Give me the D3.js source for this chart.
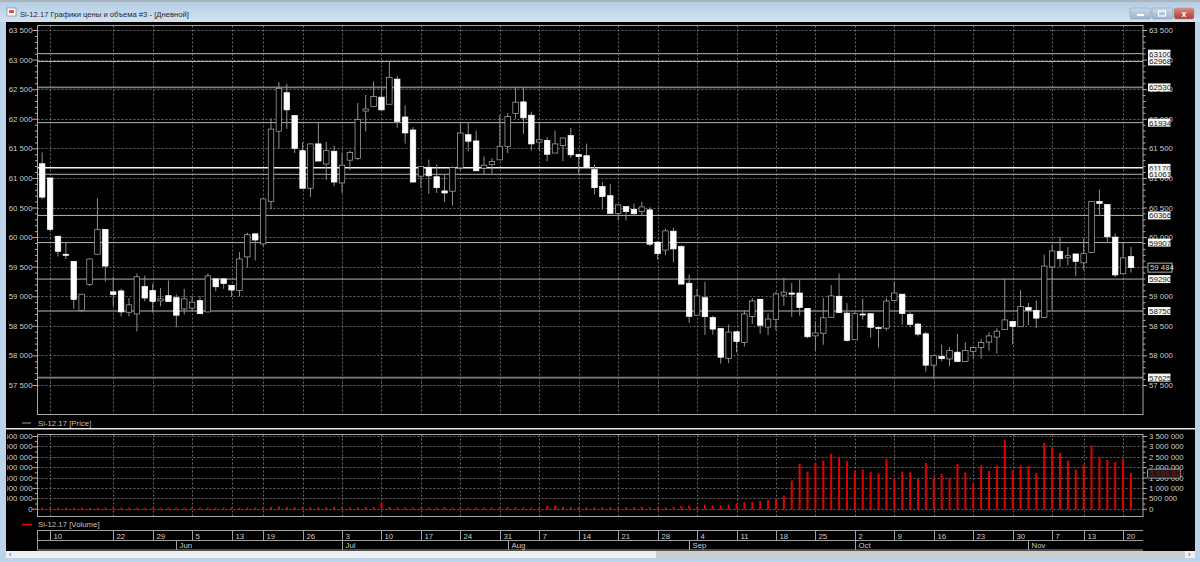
<!DOCTYPE html>
<html><head><meta charset="utf-8">
<script src="https://cdnjs.cloudflare.com/ajax/libs/d3/7.8.5/d3.min.js"></script>
<style>
html,body{margin:0;padding:0;background:#000;overflow:hidden}
svg{display:block}
text{font-family:"Liberation Sans",Arial,sans-serif;opacity:.99}
</style></head><body>
<svg id="c" width="1200" height="562"></svg>
<script>
const titleText = "Si-12.17 Графики цены и объема #3 - [Дневной]";
const priceLegend = "Si-12.17 [Price]";
const volumeLegend = "Si-12.17 [Volume]";

const opens = [61240,61000,60015,59710,59590,58760,59200,59710,60130,59075,
59090,58730,58700,59165,59095,58920,59010,58975,58785,58800,
58925,58735,59295,59295,59185,59100,59665,60055,59885,60605,
61790,62440,62055,61460,60825,61575,61235,61450,60915,61300,
61330,62130,62210,62365,62245,62670,62030,61810,61030,61180,
61020,60780,60775,61170,61730,61625,61165,61230,61305,61535,
62090,62285,62060,61605,61635,61420,61550,61715,61395,61375,
61140,60855,60700,60400,60515,60470,60430,60460,59915,59780,
60100,59840,59220,58680,58975,58640,58455,57950,58400,58220,
58660,58950,58480,58605,59020,59055,59055,58795,58330,58375,
58645,59000,58715,58265,58700,58705,58470,58460,58930,59035,
58695,58530,58365,57835,57985,57940,58055,57895,58070,58135,
58225,58310,58435,58575,58485,58810,58760,58640,59495,59760,
59650,59715,59565,59740,60600,60550,60000,59380,59670];
const highs = [61430,61000,60015,59915,59590,59040,59640,60660,60130,59330,
59125,58970,59385,59350,59215,59140,59265,59030,59125,59000,
59000,59385,59295,59295,59185,59745,60075,60055,60650,62010,
62620,62590,62055,61600,61575,61945,61610,61545,61430,61465,
62265,62405,62630,62515,62965,62725,62225,61860,61195,61310,
61225,61055,61195,61940,61940,61800,61365,61335,62065,62095,
62530,62530,62120,61940,61690,61800,61675,61845,61395,61580,
61225,60930,60900,60545,60515,60565,60600,60505,59935,60140,
60160,59860,59365,59125,59245,58670,58455,58520,58400,58765,
58970,58950,58705,59070,59310,59225,59280,58795,58575,58970,
59190,59385,58885,58745,58960,58705,58470,58970,59245,59035,
58730,58550,58395,57995,58180,58140,58365,58225,58135,58275,
58390,58460,59295,58575,59105,58890,58930,59705,59875,60005,
59830,59715,59975,60600,60805,60550,60060,59905,59835];
const lows = [60640,60100,59670,59630,58790,58730,59170,59710,59250,58830,
58660,58660,58405,58915,58720,58830,58910,58475,58690,58745,
58700,58735,59085,59125,58990,59000,59490,59605,59845,60470,
61505,61830,61420,60825,60680,61285,60970,60860,60745,61130,
61300,61785,62210,62150,62245,61845,61580,60930,60830,60730,
60745,60590,60535,61130,61450,61120,61055,61055,61305,61420,
62000,61745,61460,61465,61280,61420,61280,61335,61070,61185,
60720,60465,60400,60285,60280,60355,60370,59850,59620,59695,
59575,59205,58550,58680,58350,58355,57860,57870,58050,58150,
58530,58365,58340,58420,58840,58650,58670,58290,58070,58180,
58645,58725,58235,58265,58605,58305,58130,58420,58930,58520,
58475,58320,57725,57610,57900,57815,57895,57895,57955,57945,
58080,58030,58435,58185,58485,58515,58465,58640,58765,59495,
59520,59340,59445,59740,60380,59920,59325,59380,59400];
const closes = [60675,60130,59760,59690,58945,59035,59630,60125,59510,59030,
58735,58855,59330,58970,58910,58955,58910,58680,58955,58900,
58705,59345,59160,59215,59105,59630,60040,59950,60645,61825,
62515,62150,61500,60825,61575,61285,61460,60930,61215,61430,
61985,62165,62375,62150,62700,61955,61760,60930,61195,61035,
60835,60745,61175,61760,61620,61120,61215,61275,61535,62040,
62280,62015,61575,61645,61400,61575,61675,61390,61360,61185,
60835,60685,60400,60545,60430,60395,60510,59880,59720,60105,
59800,59205,58660,59005,58655,58445,57970,58395,58235,58700,
58920,58510,58615,59040,59070,59035,58810,58315,58380,58635,
59005,58725,58255,58705,58690,58475,58460,58920,59055,58710,
58525,58360,57835,57995,57945,58085,57895,58085,58135,58220,
58330,58410,58600,58490,58825,58765,58630,59510,59765,59635,
59685,59590,59720,60600,60570,60005,59360,59650,59484];
const volumes = [20000,30000,20000,15000,20000,20000,15000,15000,25000,20000,
20000,20000,25000,15000,30000,20000,30000,25000,20000,35000,
30000,25000,20000,30000,40000,25000,25000,30000,40000,60000,
90000,60000,45000,50000,45000,50000,40000,70000,40000,30000,
45000,70000,50000,280000,60000,40000,35000,30000,45000,30000,
30000,55000,30000,50000,25000,35000,30000,30000,40000,55000,
45000,35000,30000,40000,120000,130000,70000,60000,55000,35000,
30000,40000,50000,45000,45000,40000,85000,50000,35000,40000,
50000,100000,130000,50000,180000,130000,145000,180000,200000,290000,
300000,340000,400000,420000,610000,1330000,2140000,1760000,2180000,2290000,
2620000,2460000,2260000,1810000,1870000,1760000,1660000,2370000,1440000,1760000,
1730000,1410000,2190000,1490000,1660000,1470000,2130000,1730000,1180000,2060000,
1790000,2030000,3280000,1820000,2060000,2020000,1700000,3150000,2910000,2660000,
2290000,1860000,2100000,3020000,2460000,2320000,2220000,2380000,1686629];
const lastPrice = 59484;
const lastVolume = 1686629;

const priceTicks = [63500,63000,62500,62000,61500,61000,60500,60000,59500,59000,58500,58000,57500];
const priceMinor = [63400,63300,63200,63100,62900,62800,62700,62600,62400,62300,62200,62100,61900,61800,61700,61600,61400,61300,61200,61100,60900,60800,60700,60600,60400,60300,60200,60100,59900,59800,59700,59600,59400,59300,59200,59100,58900,58800,58700,58600,58400,58300,58200,58100,57900,57800,57700,57600];
const volumeTicks = [0,500000,1000000,1500000,2000000,2500000,3000000,3500000];
const volumeMinor = [250000,750000,1250000,1750000,2250000,2750000,3250000];
const levels = [63100,62968,62530,61934,61170,61061,60366,59907,59290,58750,57625];
const heavyLevels = [62530,58750,57625];
const brightLevels = [61170];
const dayIdx = [1,9,14,19,24,28,33,38,43,48,53,58,63,68,73,78,83,88,93,98,103,108,113,118,123,128,132,137];
const dayLab = ["10","22","29","5","13","19","26","3","10","17","24","31","7","14","21","28","4","11","18","25","2","9","16","23","30","7","13","20"];
const monthIdx = [17,38,59,82,103,125];
const monthLab = ["Jun","Jul","Aug","Sep","Oct","Nov"];

const svg = d3.select("#c");
const W=1200,H=562, L=37.5,R=1143;
const PT=25.5,PB=414.5, VT=434.5,VB=516.5;
const n = opens.length;
const x = d3.scaleLinear().domain([0,n-1]).range([42.2,1131]);
const y = d3.scaleLinear().domain([57500,63500]).range([385,30]);
const yv = d3.scaleLinear().domain([0,3500000]).range([508.7,436]);
const loc = d3.formatLocale({decimal:".",thousands:" ",grouping:[3],currency:["",""]});
const fmt = loc.format(",d");

const defs = svg.append("defs");
const g1 = defs.append("linearGradient").attr("id","tb").attr("x1",0).attr("x2",0).attr("y1",0).attr("y2",1);
g1.append("stop").attr("offset",0).attr("stop-color","#b5cde3");
g1.append("stop").attr("offset",1).attr("stop-color","#d3e2f0");
const g2 = defs.append("linearGradient").attr("id","cl").attr("x1",0).attr("x2",0).attr("y1",0).attr("y2",1);
g2.append("stop").attr("offset",0).attr("stop-color","#dd8a7c");
g2.append("stop").attr("offset",1).attr("stop-color","#b8352a");
const g3 = defs.append("linearGradient").attr("id","bt").attr("x1",0).attr("x2",0).attr("y1",0).attr("y2",1);
g3.append("stop").attr("offset",0).attr("stop-color","#c9d9e9");
g3.append("stop").attr("offset",1).attr("stop-color","#9db4cc");
defs.append("clipPath").attr("id","leftclip").append("rect").attr("x",7).attr("y",22).attr("width",32).attr("height",530);

// window chrome
svg.append("rect").attr("width",W).attr("height",H).attr("fill","#bcd3e9");
svg.append("rect").attr("width",W).attr("height",2).attr("fill","#a9b4bd");
svg.append("rect").attr("y",2).attr("width",W).attr("height",20).attr("fill","url(#tb)");
svg.append("rect").attr("x",6).attr("y",22).attr("width",1189).attr("height",529).attr("fill","#000");
svg.append("rect").attr("x",7).attr("y",8).attr("width",9).attr("height",8).attr("fill","#fff").attr("stroke","#7a8a9a").attr("stroke-width",0.7);
svg.append("rect").attr("x",9).attr("y",10).attr("width",5).attr("height",3).attr("fill","#d9534f");
svg.append("text").attr("x",20).attr("y",17).attr("font-size",7.65).attr("fill","#1f2833").text(titleText);
[[1130,"url(#bt)"],[1152,"url(#bt)"],[1174,"url(#cl)"]].forEach(([bx,f],k)=>{
  svg.append("rect").attr("x",bx).attr("y",8).attr("width",k==2?20:21).attr("height",11).attr("rx",2).attr("fill",f).attr("stroke","#8ea3b8").attr("stroke-width",0.6);
});
svg.append("rect").attr("x",1137).attr("y",14).attr("width",7).attr("height",2).attr("fill","#fff");
svg.append("rect").attr("x",1158.5).attr("y",11).attr("width",7).attr("height",5).attr("fill","none").attr("stroke","#fff").attr("stroke-width",1.2);
svg.append("text").attr("x",1184).attr("y",17).attr("text-anchor","middle").attr("font-size",9).attr("font-weight","bold").attr("fill","#fff").text("x");

// grids
const GRID="#6a6a6a";
function grid(sel,vals,scale,top,bottom){
  sel.selectAll("line.h").data(vals).join("line").attr("class","h")
    .attr("x1",L).attr("x2",R).attr("y1",d=>Math.round(scale(d))+.5).attr("y2",d=>Math.round(scale(d))+.5)
    .attr("stroke",GRID).attr("stroke-dasharray","2 2");
  sel.selectAll("line.v").data(dayIdx).join("line").attr("class","v")
    .attr("x1",d=>Math.round(x(d))+.5).attr("x2",d=>Math.round(x(d))+.5).attr("y1",top).attr("y2",bottom)
    .attr("stroke",GRID).attr("stroke-dasharray","2 2");
}
grid(svg.append("g"),priceTicks,y,PT,PB);
grid(svg.append("g"),volumeTicks,yv,VT,VB);

// levels
svg.append("g").selectAll("line").data(levels).join("line")
  .attr("x1",L).attr("x2",R).attr("y1",d=>y(d)).attr("y2",d=>y(d))
  .attr("stroke",d=>heavyLevels.includes(d)?"#7d7d7d":brightLevels.includes(d)?"#f2f2f2":"#b4b4b4")
  .attr("stroke-width",d=>heavyLevels.includes(d)?1.6:brightLevels.includes(d)?1.5:1);

// candles
const idx = d3.range(n);
const cg = svg.append("g");
cg.selectAll("line").data(idx).join("line")
  .attr("x1",i=>x(i)).attr("x2",i=>x(i)).attr("y1",i=>y(highs[i])).attr("y2",i=>y(lows[i]))
  .attr("stroke","#8f8f8f").attr("stroke-width",1);
cg.selectAll("rect").data(idx).join("rect")
  .attr("x",i=>x(i)-2.75).attr("width",5.5)
  .attr("y",i=>y(Math.max(opens[i],closes[i])))
  .attr("height",i=>Math.max(1,Math.abs(y(opens[i])-y(closes[i]))))
  .attr("fill",i=>closes[i]<opens[i]?"#fff":"#000")
  .attr("stroke",i=>closes[i]<opens[i]?"#fff":"#b0b0b0")
  .attr("stroke-width",.7);

// volume bars
svg.append("g").selectAll("rect").data(idx).join("rect")
  .attr("x",i=>x(i)-1).attr("width",2)
  .attr("y",i=>yv(volumes[i])-0.5).attr("height",i=>yv(0)-yv(volumes[i])+1)
  .attr("fill","#e00000");

// frames
[[PT,PB],[VT,VB]].forEach(([t,b])=>svg.append("rect").attr("x",L).attr("y",t).attr("width",R-L).attr("height",b-t)
  .attr("fill","none").attr("stroke","#a8a8a8"));

// axes
function styleAxis(g){ g.select(".domain").remove();
  g.selectAll("line").attr("stroke","#b0b0b0");
  g.selectAll("text").attr("fill","#cfcfcf").attr("font-size",7.8).attr("font-family",'"Liberation Sans",Arial,sans-serif');
}
function axes(scale,major,minor,clip){
  const gl = svg.append("g").attr("transform",`translate(${L},0)`);
  if(clip) gl.attr("clip-path","url(#leftclip)").attr("transform",null);
  const gi = clip? gl.append("g").attr("transform",`translate(${L},0)`) : gl;
  gi.call(d3.axisLeft(scale).tickValues(major).tickFormat(fmt).tickSize(5).tickPadding(0)).call(styleAxis);
  const gl2 = svg.append("g").attr("transform",`translate(${L},0)`);
  gl2.call(d3.axisLeft(scale).tickValues(minor).tickFormat("").tickSize(2.5)).call(styleAxis);
  const gr = svg.append("g").attr("transform",`translate(${R},0)`);
  gr.call(d3.axisRight(scale).tickValues(major).tickFormat(fmt).tickSize(4).tickPadding(2)).call(styleAxis);
  const gr2 = svg.append("g").attr("transform",`translate(${R},0)`);
  gr2.call(d3.axisRight(scale).tickValues(minor).tickFormat("").tickSize(2.5)).call(styleAxis);
}
axes(y,priceTicks,priceMinor,false);
axes(yv,volumeTicks,volumeMinor,true);

// level tags
const tg = svg.append("g").selectAll("g").data(levels).join("g").attr("transform",d=>`translate(1148,${y(d)})`);
tg.append("rect").attr("x",0).attr("y",-4).attr("width",22.5).attr("height",8).attr("fill","#f6f6f6");
tg.append("text").attr("x",1).attr("y",3).attr("font-size",8).attr("fill","#222").text(d=>d);

// last price tag
const lp = svg.append("g").attr("transform",`translate(1148,${y(lastPrice)})`);
lp.append("rect").attr("x",0).attr("y",-4.5).attr("width",24).attr("height",9).attr("fill","#000").attr("stroke","#d8d8d8").attr("stroke-width",.8);
lp.append("text").attr("x",2).attr("y",2.8).attr("font-size",7.8).attr("fill","#d8d8d8").text(fmt(lastPrice));
const lv = svg.append("g").attr("transform",`translate(1147.5,${yv(lastVolume)})`);
lv.append("rect").attr("x",0).attr("y",-4.5).attr("width",33).attr("height",9).attr("rx",1).attr("fill","#1a1a1a").attr("stroke","#bbb").attr("stroke-width",.8);
lv.append("text").attr("x",2).attr("y",2.8).attr("font-size",7.8).attr("fill","#a00000").text(fmt(lastVolume));

// separators & legends
svg.append("rect").attr("x",6).attr("y",428).attr("width",1189).attr("height",1.5).attr("fill","#e8e8e8");
svg.append("line").attr("x1",22).attr("x2",31).attr("y1",423).attr("y2",423).attr("stroke","#9a9a9a").attr("stroke-width",1);
svg.append("text").attr("x",38).attr("y",426).attr("font-size",7.8).attr("fill","#c0c0c0").text(priceLegend);
svg.append("line").attr("x1",22).attr("x2",32).attr("y1",524.5).attr("y2",524.5).attr("stroke","#f00000").attr("stroke-width",1.6);
svg.append("text").attr("x",38).attr("y",527).attr("font-size",7.8).attr("fill","#c0c0c0").text(volumeLegend);

// date axis rows
const rowC="#a0a0a0";
[[530.5],[540.5],[550]].forEach(([yy])=>svg.append("line").attr("x1",L).attr("x2",R).attr("y1",yy).attr("y2",yy).attr("stroke",rowC));
svg.append("line").attr("x1",L).attr("x2",L).attr("y1",530).attr("y2",550).attr("stroke",rowC);
const dg = svg.append("g").selectAll("g").data(dayIdx).join("g").attr("transform",d=>`translate(${Math.round(x(d))+.5},0)`);
dg.append("line").attr("y1",530.5).attr("y2",540.5).attr("stroke",rowC);
dg.append("text").attr("x",3).attr("y",538.5).attr("font-size",7.8).attr("fill","#cfcfcf").text((d,i)=>dayLab[i]);
const mg = svg.append("g").selectAll("g").data(monthIdx).join("g").attr("transform",d=>`translate(${Math.round(x(d))+.5},0)`);
mg.append("line").attr("y1",540.5).attr("y2",550).attr("stroke",rowC);
mg.append("text").attr("x",3).attr("y",548).attr("font-size",7.8).attr("fill","#cfcfcf").text((d,i)=>monthLab[i]);

// scrollbar
svg.append("rect").attr("x",6).attr("y",551).attr("width",1189).attr("height",7).attr("fill","#f0f0f0");
svg.append("rect").attr("x",656).attr("y",551).attr("width",529).attr("height",7).attr("fill","#cdcdcd");
svg.append("text").attr("x",9).attr("y",557).attr("font-size",7).attr("fill","#333").text("‹");
svg.append("text").attr("x",1188).attr("y",557).attr("font-size",7).attr("fill","#333").text("›");
</script></body></html>
